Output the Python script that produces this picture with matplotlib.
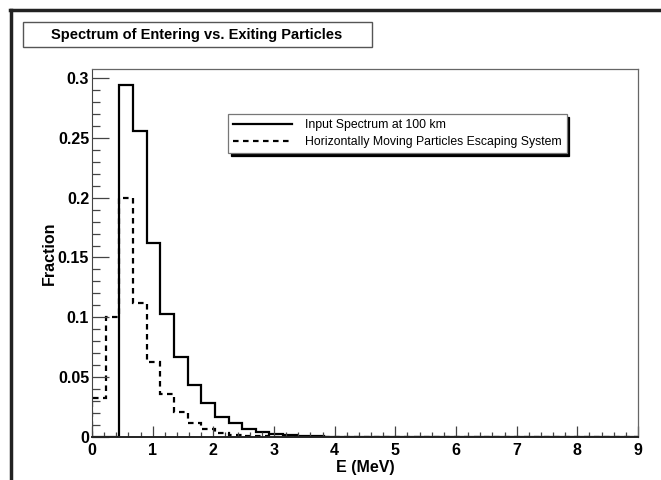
import matplotlib.pyplot as plt
import numpy as np
from matplotlib.patches import Rectangle
from matplotlib.lines import Line2D

plt.rcParams['font.family'] = ['Liberation Sans', 'DejaVu Sans']

# 40 bins of 0.225 MeV from 0 to 9 MeV
bin_edges = np.linspace(0, 9, 41)

input_spectrum = [
    0.0, 0.0, 0.294, 0.256, 0.1625, 0.103, 0.067, 0.0435, 0.028, 0.017,
    0.0115, 0.0065, 0.004, 0.0025, 0.0015, 0.001, 0.0006, 0.0003, 0.0, 0.0,
    0.0, 0.0, 0.0, 0.0, 0.0, 0.0, 0.0, 0.0, 0.0, 0.0,
    0.0, 0.0, 0.0, 0.0, 0.0, 0.0, 0.0, 0.0, 0.0, 0.0,
]
escaping = [
    0.033, 0.1, 0.2, 0.112, 0.063, 0.036, 0.021, 0.012, 0.0065, 0.0035,
    0.002, 0.0012, 0.0006, 0.0003, 0.0, 0.0, 0.0, 0.0, 0.0, 0.0,
    0.0, 0.0, 0.0, 0.0, 0.0, 0.0, 0.0, 0.0, 0.0, 0.0,
    0.0, 0.0, 0.0, 0.0, 0.0, 0.0, 0.0, 0.0, 0.0, 0.0,
]
labels = ["Input Spectrum at 100 km",
          "Horizontally Moving Particles Escaping System"]

W, H = 661, 480
fig = plt.figure(figsize=(W / 100, H / 100), dpi=100)

ax = fig.add_axes([92 / W, 1 - 437 / H, (638 - 92) / W, (437 - 69) / H])

ax.stairs(input_spectrum, bin_edges, color='black', linewidth=1.6,
          label=labels[0])
ax.stairs(escaping, bin_edges, color='black', linewidth=1.6,
          linestyle=(0, (2.5, 2)), label=labels[1])

ax.set_xlim(0, 9)
ax.set_ylim(0, 0.3075)
ax.set_xticks(np.arange(0, 10, 1))
ax.set_xticks(np.arange(0, 9.01, 0.2), minor=True)
ax.set_yticks([0, 0.05, 0.1, 0.15, 0.2, 0.25, 0.3])
ax.set_yticklabels(['0', '0.05', '0.1', '0.15', '0.2', '0.25', '0.3'])
ax.set_yticks(np.arange(0, 0.305, 0.01), minor=True)

ax.tick_params(axis='both', which='both', direction='in', color='#444444',
               width=0.9, labelsize=11.5)
ax.tick_params(axis='x', which='major', length=8, pad=4)
ax.tick_params(axis='x', which='minor', length=3.6)
ax.tick_params(axis='y', which='major', length=12, pad=2)
ax.tick_params(axis='y', which='minor', length=6)
for lab in ax.get_xticklabels() + ax.get_yticklabels():
    lab.set_fontweight('bold')

for side in ['top', 'right']:
    ax.spines[side].set_color('#666666')
    ax.spines[side].set_linewidth(0.9)
ax.spines['left'].set_color('#444444')
ax.spines['bottom'].set_color('#222222')
ax.spines['bottom'].set_linewidth(1.4)

ax.set_xlabel('E (MeV)', fontsize=11.5, fontweight='bold', labelpad=2)
ax.set_ylabel('Fraction', fontsize=11.5, fontweight='bold', labelpad=1)

leg = ax.legend(loc='upper left', bbox_to_anchor=(228 / W, 1 - 114 / H),
                bbox_transform=fig.transFigure, fontsize=8.8,
                fancybox=False, handlelength=4.8, handletextpad=1.1,
                borderpad=0.4, labelspacing=0.45, borderaxespad=0,
                shadow={'color': 'black', 'alpha': 1})
leg.get_frame().set_edgecolor('#777777')
leg.get_frame().set_linewidth(0.9)
leg.get_frame().set_alpha(1)

# title box
fig.add_artist(Rectangle((23 / W, 1 - 47 / H), (372 - 23) / W, 25 / H,
                         transform=fig.transFigure, facecolor='white',
                         edgecolor='#555555', linewidth=1))
fig.text(197 / W, 1 - 34.5 / H, 'Spectrum of Entering vs. Exiting Particles',
         fontsize=10.5, fontweight='bold', ha='center', va='center')

# canvas border (top and left)
fig.add_artist(Line2D([10 / W, 1], [1 - 9.5 / H, 1 - 9.5 / H],
                      transform=fig.transFigure, color='#222222', linewidth=2.5))
fig.add_artist(Line2D([11 / W, 11 / W], [0, 1 - 9.5 / H],
                      transform=fig.transFigure, color='#222222', linewidth=2.5))

fig.savefig('out.png', dpi=100)
